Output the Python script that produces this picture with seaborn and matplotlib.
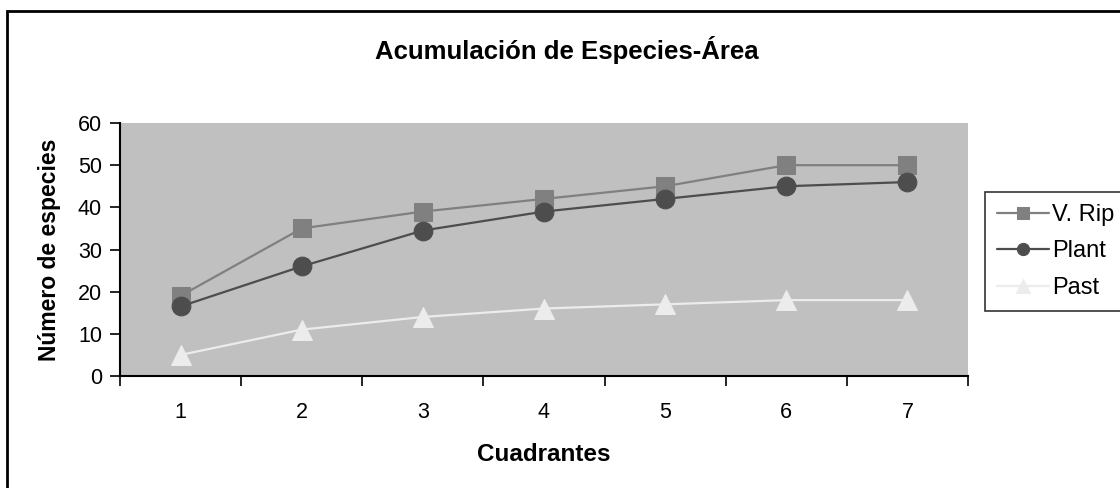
import pandas as pd
import matplotlib.pyplot as plt
import seaborn as sns
from matplotlib.patches import Rectangle

# data
cuadrantes = [1, 2, 3, 4, 5, 6, 7]
v_rip = [19, 35, 39, 42, 45, 50, 50]
plant = [16.5, 26, 34.5, 39, 42, 45, 46]
past = [5, 11, 14, 16, 17, 18, 18]
series_names = ["V. Rip", "Plant", "Past"]
y_ticks = [0, 10, 20, 30, 40, 50, 60]

df = pd.DataFrame({
    "Cuadrantes": cuadrantes * 3,
    "Especies": v_rip + plant + past,
    "Serie": [s for s in series_names for _ in cuadrantes],
})

sns.set_theme(style="white")
plt.rcParams["font.family"] = ["Liberation Sans", "DejaVu Sans"]
plt.rcParams.update({"text.color": "black", "axes.labelcolor": "black",
                     "xtick.color": "black", "ytick.color": "black"})

colors = {"V. Rip": "#808080", "Plant": "#4d4d4d", "Past": "#ececec"}
markers = {"V. Rip": "s", "Plant": "o", "Past": "^"}
sizes = {"V. Rip": 13, "Plant": 13.5, "Past": 15}

fig = plt.figure(figsize=(11.2, 4.88), dpi=100)
ax = fig.add_axes([120 / 1120, 1 - 376 / 488, 848 / 1120, 253 / 488])
ax.set_facecolor("#c0c0c0")

for name in series_names:
    sub = df[df["Serie"] == name]
    sns.lineplot(
        data=sub, x="Cuadrantes", y="Especies", ax=ax,
        color=colors[name], marker=markers[name], markersize=sizes[name],
        markeredgecolor=colors[name], linewidth=1.6, label=name, legend=False,
    )

ax.set_xlim(0.5, 7.5)
ax.set_ylim(0, 60)
ax.set_yticks(y_ticks)
ax.set_xticks(cuadrantes)
ax.set_xticks([c - 0.5 for c in cuadrantes] + [7.5], minor=True)
ax.tick_params(axis="x", which="major", length=0, pad=19, labelsize=15.5)
ax.tick_params(axis="x", which="minor", length=7, width=1.2, color="black",
               direction="out", bottom=True)
ax.tick_params(axis="y", length=7, width=1.2, color="black", direction="out",
               left=True, labelsize=15.5, pad=6)

for side in ["top", "right"]:
    ax.spines[side].set_visible(False)
for side in ["left", "bottom"]:
    ax.spines[side].set_color("black")
    ax.spines[side].set_linewidth(1.5)

ax.set_xlabel("Cuadrantes", fontsize=17.5, fontweight="bold", labelpad=14)
ax.set_ylabel("Número de especies", fontsize=16.5, fontweight="bold", labelpad=12)

fig.text(567 / 1120, 1 - 50 / 488, "Acumulación de Especies-Área",
         ha="center", va="center", fontsize=18.5, fontweight="bold")

handles, labels = ax.get_legend_handles_labels()
leg = fig.legend(handles, labels, loc="upper left",
                 bbox_to_anchor=(985 / 1120, 1 - 192 / 488),
                 fontsize=17, frameon=True, fancybox=False, markerscale=0.65,
                 handlelength=2.2, handletextpad=0.15, borderpad=0.5,
                 labelspacing=0.62, borderaxespad=0)
leg.get_frame().set_edgecolor("black")
leg.get_frame().set_linewidth(1.2)

# outer chart border
fig.patches.append(Rectangle((7 / 1120, -0.05), 1.1, 1 - 11 / 488 + 0.05,
                             transform=fig.transFigure, fill=False,
                             edgecolor="black", linewidth=2, zorder=10))

fig.savefig("out.png", dpi=100)
